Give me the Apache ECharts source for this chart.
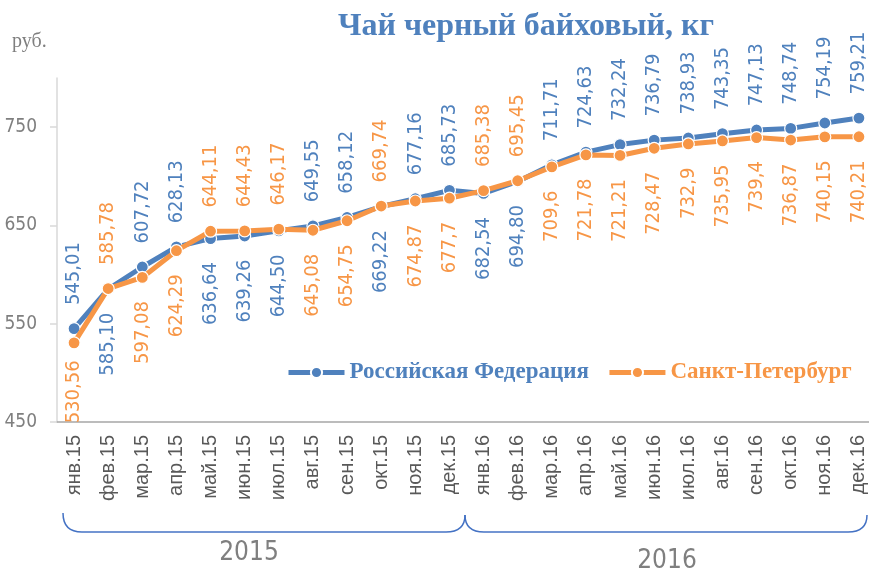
<!DOCTYPE html>
<html>
<head>
<meta charset="UTF-8">
<title>Чай черный байховый, кг</title>
<script src="https://cdn.jsdelivr.net/npm/echarts@6/dist/echarts.min.js"></script>
<style type="text/css">
body { margin: 0; padding: 0; background: #fff; }
#chart { width: 869px; height: 573px; }
</style>
</head>
<body>
<div id="chart"></div>
<script type="text/javascript">
// месяцы по оси X
var months = ['янв.15', 'фев.15', 'мар.15', 'апр.15', 'май.15', 'июн.15', 'июл.15', 'авг.15', 'сен.15', 'окт.15', 'ноя.15', 'дек.15',
              'янв.16', 'фев.16', 'мар.16', 'апр.16', 'май.16', 'июн.16', 'июл.16', 'авг.16', 'сен.16', 'окт.16', 'ноя.16', 'дек.16'];

var rfValues = [545.01, 585.10, 607.72, 628.13, 636.64, 639.26, 644.50, 649.55, 658.12, 669.22, 677.16, 685.73,
                682.54, 694.80, 711.71, 724.63, 732.24, 736.79, 738.93, 743.35, 747.13, 748.74, 754.19, 759.21];
var spbValues = [530.56, 585.78, 597.08, 624.29, 644.11, 644.43, 646.17, 645.08, 654.75, 669.74, 674.87, 677.7,
                 685.38, 695.45, 709.6, 721.78, 721.21, 728.47, 732.9, 735.95, 739.4, 736.87, 740.15, 740.21];

// подписи как в исходнике (запятая, количество знаков)
var rfLabels = ['545,01', '585,10', '607,72', '628,13', '636,64', '639,26', '644,50', '649,55', '658,12', '669,22', '677,16', '685,73',
                '682,54', '694,80', '711,71', '724,63', '732,24', '736,79', '738,93', '743,35', '747,13', '748,74', '754,19', '759,21'];
var spbLabels = ['530,56', '585,78', '597,08', '624,29', '644,11', '644,43', '646,17', '645,08', '654,75', '669,74', '674,87', '677,7',
                 '685,38', '695,45', '709,6', '721,78', '721,21', '728,47', '732,9', '735,95', '739,4', '736,87', '740,15', '740,21'];

var yTicks = [450, 550, 650, 750];

// где стоит подпись: t - над точкой, b - под точкой
var rfSide  = ['t','b','t','t','b','b','b','t','t','b','t','t', 'b','b','t','t','t','t','t','t','t','t','t','t'];
var spbSide = ['b','t','b','b','t','t','t','b','b','t','b','b', 't','t','b','b','b','b','b','b','b','b','b','b'];

var BLUE = '#4F81BD';
var ORANGE = '#F79646';
var NARROW = '"Liberation Sans Narrow", "DejaVu Sans Condensed", sans-serif';
var SERIF = '"Liberation Serif", "Times New Roman", serif';

function buildData(values, labels, sides, color) {
    var out = [];
    for (var i = 0; i < values.length; i++) {
        var top = sides[i] == 't';
        out.push({
            value: values[i],
            label: {
                show: true,
                formatter: labels[i],
                position: top ? 'top' : 'bottom',
                rotate: 90,
                align: top ? 'left' : 'right',
                verticalAlign: 'middle',
                distance: 17,
                color: color,
                fontFamily: NARROW,
                fontSize: 20
            }
        });
    }
    return out;
}

// кусок скобки: кривая или прямая
function curve(x1, y1, cx, cy, x2, y2) {
    return { type: 'bezierCurve', shape: { x1: x1, y1: y1, cpx1: cx, cpy1: cy, x2: x2, y2: y2 },
             style: { fill: 'none', stroke: '#4472C4', lineWidth: 1.5 } };
}
function straight(x1, y1, x2, y2) {
    return { type: 'line', shape: { x1: x1, y1: y1, x2: x2, y2: y2 },
             style: { stroke: '#4472C4', lineWidth: 1.5 } };
}

window.onload = function () {
    var myChart = echarts.init(document.getElementById('chart'));

    var spbData = buildData(spbValues, spbLabels, spbSide, ORANGE);
    // первая подпись упирается в ось, в Excel она сдвинута
    spbData[0].label.distance = 5;
    spbData[0].label.offset = [-6, 0];

    var option = {
        animation: false,
        title: {
            text: 'Чай черный байховый, кг',
            left: 521,
            textAlign: 'center',
            top: 6,
            textStyle: { color: BLUE, fontFamily: SERIF, fontWeight: 'bold', fontSize: 32 }
        },
        legend: {
            left: 281,
            top: 356,
            width: 640,
            itemWidth: 56,
            itemHeight: 14,
            itemGap: 18,
            lineStyle: { width: 5 },
            data: [
                { name: 'Российская Федерация', textStyle: { color: BLUE } },
                { name: 'Санкт-Петербург', textStyle: { color: ORANGE } }
            ],
            textStyle: { fontFamily: SERIF, fontWeight: 'bold', fontSize: 23 }
        },
        grid: {
            left: 57,
            top: 78,
            width: 819,
            height: 344,
            outerBoundsMode: 'none'
        },
        xAxis: {
            type: 'category',
            data: months,
            boundaryGap: true,
            axisLine: { lineStyle: { color: '#a6a6a6', width: 1.5 } },
            axisTick: { length: 6, lineStyle: { color: '#a6a6a6', width: 1.5 } },
            axisLabel: {
                interval: 0,
                rotate: 90,
                margin: 13,
                color: '#595959',
                fontFamily: '"Liberation Sans", Arial, sans-serif',
                fontSize: 20
            }
        },
        yAxis: {
            type: 'value',
            min: 450,
            max: 800,
            splitLine: { show: false },
            axisLine: { show: true, lineStyle: { color: '#d9d9d9', width: 1.5 } },
            axisTick: { show: true, length: 7, customValues: yTicks, lineStyle: { color: '#d9d9d9', width: 1.5 } },
            axisLabel: {
                customValues: yTicks,
                margin: 20,
                color: '#7f7f7f',
                fontFamily: NARROW,
                fontSize: 19
            }
        },
        series: [
            {
                name: 'Российская Федерация',
                type: 'line',
                data: buildData(rfValues, rfLabels, rfSide, BLUE),
                symbol: 'circle',
                symbolSize: 12,
                itemStyle: { color: BLUE, borderColor: '#fff', borderWidth: 1.2 },
                lineStyle: { color: BLUE, width: 5 },
                z: 2
            },
            {
                name: 'Санкт-Петербург',
                type: 'line',
                data: spbData,
                symbol: 'circle',
                symbolSize: 12,
                itemStyle: { color: ORANGE, borderColor: '#fff', borderWidth: 1.2 },
                lineStyle: { color: ORANGE, width: 5 },
                z: 3
            }
        ],
        graphic: [
            {
                type: 'text', x: 12, y: 32,
                style: { text: 'руб.', fill: '#7f7f7f', font: '20px ' + SERIF }
            },
            // фигурные скобки под месяцами
            curve(63, 513, 63, 532, 82, 532),
            straight(82, 532, 446, 532),
            curve(446, 532, 465, 532, 465, 515),
            curve(465, 515, 465, 532, 484, 532),
            straight(484, 532, 848, 532),
            curve(848, 532, 867, 532, 867, 515),
            {
                type: 'text', x: 249, y: 553,
                style: { text: '2015', fill: '#7f7f7f', font: '26px ' + NARROW, align: 'center', verticalAlign: 'middle' }
            },
            {
                type: 'text', x: 667, y: 561,
                style: { text: '2016', fill: '#7f7f7f', font: '26px ' + NARROW, align: 'center', verticalAlign: 'middle' }
            }
        ]
    };
    myChart.setOption(option);
};
</script>
</body>
</html>
